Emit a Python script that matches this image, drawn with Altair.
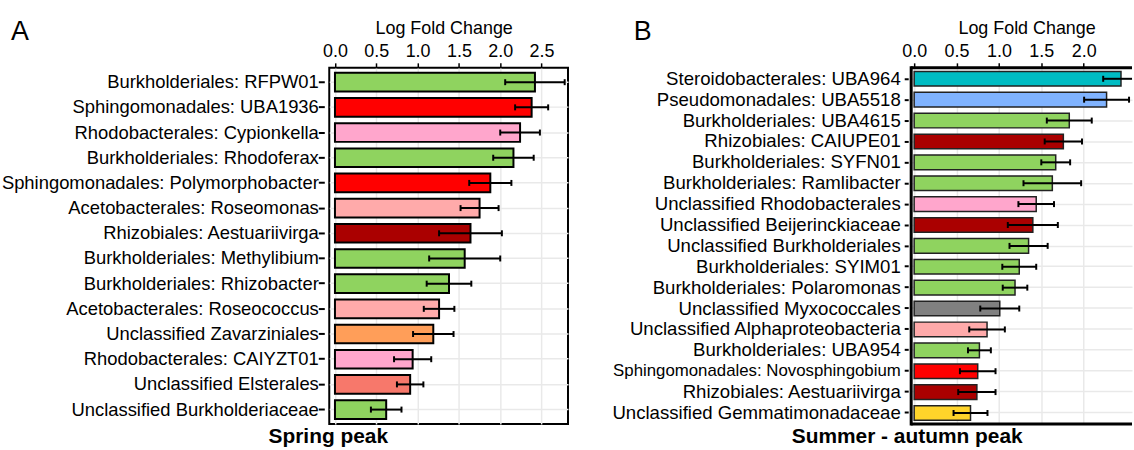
import altair as alt
import pandas as pd

FONT = "Liberation Sans"

# ---------------- Panel A : Spring peak ----------------
a_names = [
    "Burkholderiales: RFPW01",
    "Sphingomonadales: UBA1936",
    "Rhodobacterales: Cypionkella",
    "Burkholderiales: Rhodoferax",
    "Sphingomonadales: Polymorphobacter",
    "Acetobacterales: Roseomonas",
    "Rhizobiales: Aestuariivirga",
    "Burkholderiales: Methylibium",
    "Burkholderiales: Rhizobacter",
    "Acetobacterales: Roseococcus",
    "Unclassified Zavarziniales",
    "Rhodobacterales: CAIYZT01",
    "Unclassified Elsterales",
    "Unclassified Burkholderiaceae",
]
a_values = [2.42, 2.38, 2.24, 2.16, 1.88, 1.75, 1.64, 1.57, 1.38, 1.26, 1.19, 0.94, 0.91, 0.62]
a_errors = [0.36, 0.20, 0.24, 0.245, 0.255, 0.23, 0.38, 0.43, 0.27, 0.185, 0.245, 0.225, 0.16, 0.185]
a_colors = [
    "#8fd35f", "#ff0000", "#ffa6cc", "#8fd35f", "#ff0000", "#ffaaaa", "#aa0000",
    "#8fd35f", "#8fd35f", "#ffaaaa", "#ff9e59", "#ffa6cc", "#f7786b", "#8fd35f",
]
a_ticks = [0.0, 0.5, 1.0, 1.5, 2.0, 2.5]

# ---------------- Panel B : Summer - autumn peak ----------------
b_names = [
    "Steroidobacterales: UBA964",
    "Pseudomonadales: UBA5518",
    "Burkholderiales: UBA4615",
    "Rhizobiales: CAIUPE01",
    "Burkholderiales: SYFN01",
    "Burkholderiales: Ramlibacter",
    "Unclassified Rhodobacterales",
    "Unclassified Beijerinckiaceae",
    "Unclassified Burkholderiales",
    "Burkholderiales: SYIM01",
    "Burkholderiales: Polaromonas",
    "Unclassified Myxococcales",
    "Unclassified Alphaproteobacteria",
    "Burkholderiales: UBA954",
    "Sphingomonadales: Novosphingobium",
    "Rhizobiales: Aestuariivirga",
    "Unclassified Gemmatimonadaceae",
]
b_values = [2.44, 2.27, 1.83, 1.76, 1.67, 1.63, 1.44, 1.40, 1.35, 1.24, 1.19, 1.01, 0.86, 0.77, 0.75, 0.74, 0.665]
b_errors = [0.21, 0.265, 0.265, 0.22, 0.17, 0.34, 0.21, 0.295, 0.225, 0.20, 0.145, 0.23, 0.21, 0.135, 0.21, 0.22, 0.20]
b_colors = [
    "#00bcc3", "#80b3ff", "#8fd35f", "#aa0000", "#8fd35f", "#8fd35f", "#ffa6cc",
    "#aa0000", "#8fd35f", "#8fd35f", "#8fd35f", "#808080", "#ffaaaa", "#8fd35f",
    "#ff0000", "#aa0000", "#ffd42a",
]
b_ticks = [0.0, 0.5, 1.0, 1.5, 2.0]
b_narrow_label = "Sphingomonadales: Novosphingobium"


def panel(names, values, errors, colors, ticks, domain, width, height,
          pad_inner, pad_outer, frame_w, bar_stroke, bar_sw, label_size,
          tick_size, tick_offset, label_pad, title_x, letter, letter_x, bottom, bottom_x,
          open_right=False):
    df = pd.DataFrame({"name": names, "value": values, "err": errors, "color": colors})
    df["lo"] = df["value"] - df["err"]
    df["hi"] = df["value"] + df["err"]

    xscale = alt.Scale(domain=domain, nice=False, zero=False, clamp=True)
    yscale = alt.Scale(paddingInner=pad_inner, paddingOuter=pad_outer)
    yaxis = alt.Axis(
        title=None, labelFontSize=label_size, labelFont=FONT, labelColor="black",
        tickColor="black", tickWidth=2, tickSize=tick_size, offset=tick_offset,
        labelPadding=label_pad, domain=False, grid=True, gridColor="#e9e9e9",
        gridWidth=1.5, bandPosition=0.5, labelLimit=400,
    )
    xaxis = alt.Axis(
        orient="top", title="Log Fold Change", titleFontSize=18, titleFont=FONT,
        titleFontWeight="normal", titleColor="black", titlePadding=6, titleX=title_x,
        labelFontSize=18, labelFont=FONT, labelColor="black", labelPadding=2,
        values=ticks, format=".1f", tickColor="black", tickWidth=1.5, tickSize=5,
        domain=False, grid=True, gridColor="#e9e9e9", gridWidth=1.5,
    )
    y = alt.Y("name:N", sort=names, scale=yscale, axis=yaxis)
    base = alt.Chart(df)
    bars = base.mark_bar(stroke=bar_stroke, strokeWidth=bar_sw).encode(
        x=alt.X("value:Q", scale=xscale, axis=xaxis),
        x2=alt.datum(0),
        y=y,
        color=alt.Color("color:N", scale=None),
    )
    rules = base.mark_rule(color="black", strokeWidth=2).encode(
        x=alt.X("lo:Q", scale=xscale), x2="hi:Q", y=y
    )
    cap_lo = base.mark_tick(color="black", thickness=2, size=6, opacity=1).encode(
        x=alt.X("lo:Q", scale=xscale), y=y
    )
    # caps beyond the visible range are not drawn (the panel is cut at the right)
    cap_hi = base.transform_filter(alt.datum.hi <= domain[1]).mark_tick(
        color="black", thickness=2, size=6, opacity=1
    ).encode(x=alt.X("hi:Q", scale=xscale), y=y)
    ann = pd.DataFrame({"t": [letter]})
    letter_mark = alt.Chart(ann).mark_text(
        fontSize=27, font=FONT, align="left", baseline="alphabetic", color="black"
    ).encode(text="t:N", x=alt.value(letter_x), y=alt.value(-28))
    bt = pd.DataFrame({"t": [bottom]})
    bottom_mark = alt.Chart(bt).mark_text(
        fontSize=21, font=FONT, fontWeight="bold", align="center",
        baseline="alphabetic", color="black"
    ).encode(text="t:N", x=alt.value(bottom_x), y=alt.value(height + 19))
    layers = [bars, rules, cap_lo, cap_hi, letter_mark, bottom_mark]
    if open_right:
        one = pd.DataFrame({"k": [0]})
        fr = alt.Chart(one).mark_rule(color="black", strokeWidth=frame_w)
        layers += [
            alt.Chart(one).mark_rule(color="black", strokeWidth=frame_w, strokeCap="square").encode(
                x=alt.value(0), y=alt.value(0), y2=alt.value(height)),
            fr.encode(x=alt.value(0), x2=alt.value(width), y=alt.value(0)),
            fr.encode(x=alt.value(0), x2=alt.value(width), y=alt.value(height)),
        ]
        view = alt.ViewBackground(stroke="transparent", strokeWidth=0, fill="white")
    else:
        view = alt.ViewBackground(stroke="black", strokeWidth=frame_w, fill="white")
    return alt.layer(*layers).properties(width=width, height=height, view=view)


chart_a = panel(a_names, a_values, a_errors, a_colors, a_ticks, [-0.069, 2.82], 240, 358,
                0.26, 0.2, 2, "black", 2, 18.5, 6, 5, 0, 115, "A", -320, "Spring peak", -1)
b_label_size = {
    "condition": {"test": f"datum.value === '{b_narrow_label}'", "value": 16.9},
    "value": 18.7,
}
chart_b = panel(b_names, b_values, b_errors, b_colors, b_ticks, [-0.035, 2.57], 222, 358,
                0.3, 0.175, 3, "#222222", 1.5, b_label_size, 4, 3, 4, 116, "B", -279,
                "Summer - autumn peak", -4, open_right=True)

chart = alt.hconcat(chart_a, chart_b, spacing=43).configure(
    font=FONT, padding={"left": 0, "top": 16, "right": 0, "bottom": 0}
).configure_view(stroke="black")

chart.save("out.html", embed_options={"renderer": "svg", "actions": False})
